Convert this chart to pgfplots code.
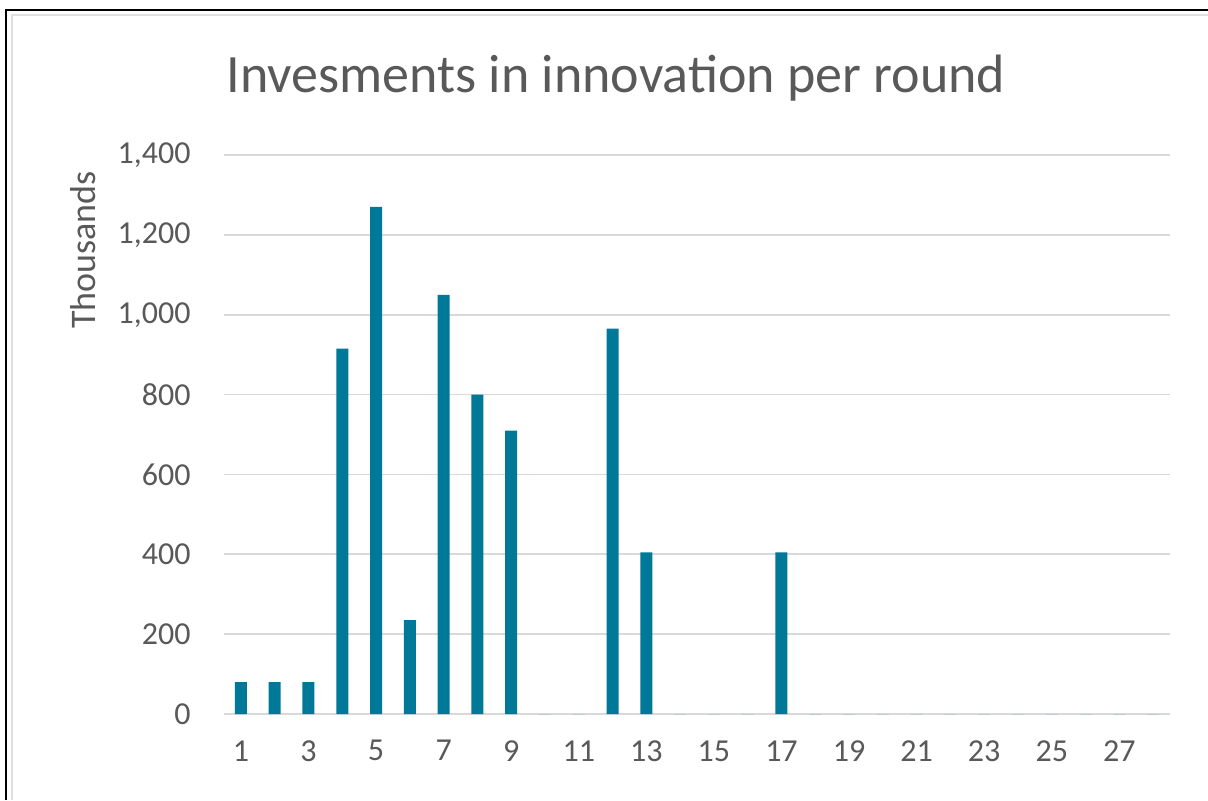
\documentclass[border=0pt]{standalone}
\usepackage{pgfplots}
\pgfplotsset{compat=1.18}
\usepackage{fontspec}
\setmainfont{Carlito}
\definecolor{barteal}{RGB}{0,120,152}
\definecolor{txtgray}{HTML}{595959}
\definecolor{gridgray}{HTML}{D9D9D9}
\begin{document}
\begin{tikzpicture}[x=1pt,y=1pt]
\useasboundingbox (0,0) rectangle (604,400);
\fill[white] (0,0) rectangle (604,400);
\draw[gray!25, line width=1pt] (6,0) -- (6,392.5) -- (604,392.5);
\draw[black, line width=1.2pt] (3,0) -- (3,395) -- (604,395);
\node[anchor=base, text=txtgray, font=\fontsize{27}{27}\selectfont, inner sep=0pt] at (308,353.5) {Invesments in innovation per round};
\node[anchor=base, rotate=90, text=txtgray, font=\fontsize{18}{18}\selectfont, inner sep=0pt] at (47.5,275) {Thousands};
\begin{axis}[
  at={(112pt,43pt)}, anchor=origin,
  scale only axis, width=473pt, height=279.5pt,
  xmin=0.5, xmax=28.5, ymin=0, ymax=1400,
  xtick={1,3,...,27},
  ytick={0,200,...,1400},
  ymajorgrids, major grid style={gridgray, line width=0.8pt},
  axis line style={draw=none},
  major tick length=0pt,
  /pgf/number format/assume math mode=true,
  /pgf/number format/1000 sep={,},
  scaled y ticks=false,
  tick label style={font=\fontsize{16}{16}\selectfont, text=txtgray},
  yticklabel style={anchor=east, inner sep=0pt, xshift=-16.5pt},
  xticklabel style={anchor=north, inner sep=0pt, yshift=-13pt},
  clip=false,
]
\addplot[ybar, bar width=6pt, fill=barteal, draw=none] coordinates {
(1,80) (2,80) (3,80) (4,915) (5,1270) (6,235) (7,1050) (8,800) (9,710)
(10,0) (11,0) (12,965) (13,405) (14,0) (15,0) (16,0) (17,405)
(18,0) (19,0) (20,0) (21,0) (22,0) (23,0) (24,0) (25,0) (26,0) (27,0) (28,0)
};
\end{axis}
\end{tikzpicture}
\end{document}
